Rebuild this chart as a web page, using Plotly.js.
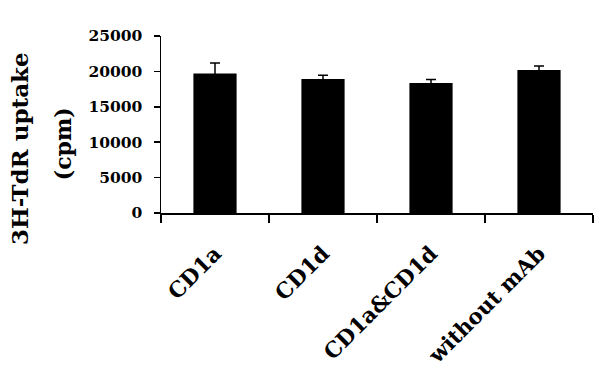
<!DOCTYPE html>
<html>
<head>
<meta charset="utf-8">
<script src="https://cdn.plot.ly/plotly-3.0.1.min.js"></script>
<style>html,body{margin:0;padding:0;background:#fff;}#chart{width:600px;height:392px;}</style>
</head>
<body>
<div id="chart"></div>
<script>
const categories = ["CD1a", "CD1d", "CD1a&CD1d", "without mAb"];
const uptake = [19700, 18920, 18350, 20200];
const errors = [1500, 520, 520, 560];
const yTickVals = [0, 5000, 10000, 15000, 20000, 25000];
const yTickText = ["0", "5000", "10000", "15000", "20000", "25000"];
const yTitleLine1 = "3H-TdR uptake";
const yTitleLine2 = "(cpm)";

const serifBold = {family: "DejaVu Serif", weight: "bold", color: "#000"};

const trace = {
  type: "bar",
  x: categories,
  y: uptake,
  marker: {color: "#000", line: {width: 0}},
  error_y: {type: "data", array: errors, visible: true, color: "#000", thickness: 1.5, width: 5}
};

const layout = {
  width: 600, height: 392,
  margin: {l: 161, r: 7, t: 36, b: 179},
  paper_bgcolor: "#fff", plot_bgcolor: "#fff",
  showlegend: false,
  bargap: 0.6,
  xaxis: {
    type: "category",
    showline: true, linecolor: "#000", linewidth: 1.5,
    ticks: "outside", ticklen: 8, tickcolor: "#000", tickwidth: 1.5,
    tickson: "boundaries",
    tickangle: -45,
    ticklabelstandoff: 18,
    tickfont: Object.assign({size: 21.5}, serifBold),
    showgrid: false, zeroline: false
  },
  yaxis: {
    range: [0, 25000], tickvals: yTickVals, ticktext: yTickText,
    showline: true, linecolor: "#000", linewidth: 1.5,
    ticks: "outside", ticklen: 6, tickcolor: "#000", tickwidth: 1.5,
    ticklabelstandoff: 8,
    tickfont: Object.assign({size: 15.5}, serifBold),
    showgrid: false, zeroline: false
  },
  annotations: [
    {text: yTitleLine1, xref: "paper", yref: "paper", x: -0.329, y: 0.366, textangle: -90,
     showarrow: false, xanchor: "center", yanchor: "middle", font: Object.assign({size: 23}, serifBold)},
    {text: yTitleLine2, xref: "paper", yref: "paper", x: -0.227, y: 0.394, textangle: -90,
     showarrow: false, xanchor: "center", yanchor: "middle", font: Object.assign({size: 22}, serifBold)}
  ]
};

Plotly.newPlot("chart", [trace], layout, {displayModeBar: false, staticPlot: true});
</script>
</body>
</html>
